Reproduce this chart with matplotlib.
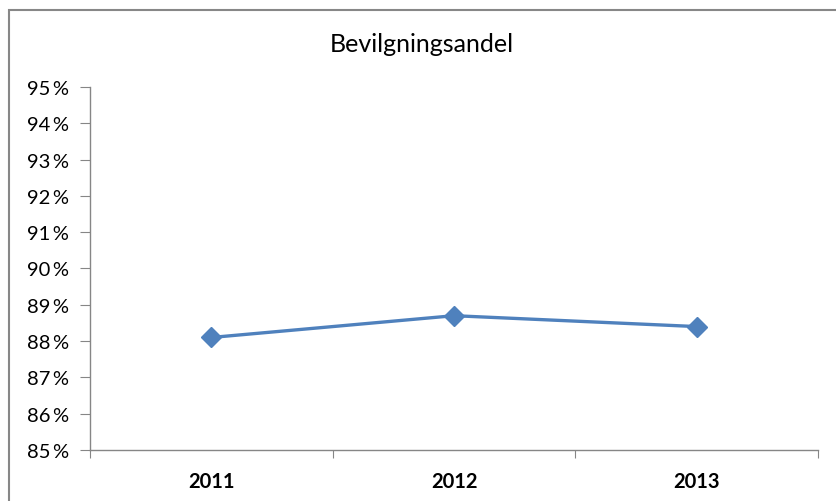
import matplotlib.pyplot as plt
from matplotlib.patches import Rectangle
from matplotlib.ticker import FuncFormatter

years = ["2011", "2012", "2013"]
andel = [88.1, 88.7, 88.4]
y_ticks = list(range(85, 96))

plt.rcParams['font.family'] = ['Lato', 'DejaVu Sans']

fig = plt.figure(figsize=(8.36, 5.02), dpi=100)
ax = fig.add_axes([90 / 836, 1 - 451 / 502, 728 / 836, 363 / 502])

# outer chart frame (cut off at right and bottom)
fig.patches.append(Rectangle((8.5 / 836, -0.2), 2.0, 1.2 - 10.5 / 502,
                             transform=fig.transFigure, fill=False,
                             edgecolor='#878787', linewidth=1.5))

x = range(len(years))
ax.plot(x, andel, color='#4F81BD', linewidth=2.4, marker='D', markersize=10,
        markeredgecolor='#4F81BD')

ax.set_xlim(-0.5, len(years) - 0.5)
ax.set_ylim(85, 95)
ax.set_yticks(y_ticks)
ax.yaxis.set_major_formatter(FuncFormatter(lambda v, p: f"{v:.0f}\u2009%"))

ax.set_xticks([i - 0.5 for i in range(len(years) + 1)])
ax.set_xticklabels([])
ax.set_xticks(list(x), minor=True)
ax.set_xticklabels(years, minor=True, fontweight='bold', fontsize=14.5)
ax.tick_params(axis='x', which='minor', length=0, pad=15)
ax.tick_params(axis='x', which='major', length=6, color='#868686', direction='out')
ax.tick_params(axis='y', length=7, color='#868686', labelsize=14.5, pad=8)

for s in ['top', 'right']:
    ax.spines[s].set_visible(False)
for s in ['left', 'bottom']:
    ax.spines[s].set_color('#868686')
    ax.spines[s].set_linewidth(1.0)

fig.text(422 / 836, 1 - 44 / 502, "Bevilgningsandel", ha='center', va='center',
         fontsize=18)

fig.savefig("out.png", dpi=100)
